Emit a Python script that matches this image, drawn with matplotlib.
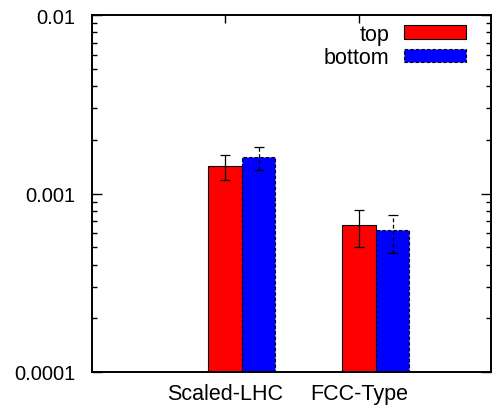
import numpy as np
import matplotlib
matplotlib.use("Agg")
import matplotlib.pyplot as plt
from matplotlib.ticker import LogLocator, NullFormatter, FixedLocator

plt.rcParams['font.family'] = ['Liberation Sans', 'DejaVu Sans']

categories = ["Scaled-LHC", "FCC-Type"]
top_vals = [1.41e-3, 6.55e-4]
top_lo = [1.19e-3, 5.03e-4]
top_hi = [1.64e-3, 8.1e-4]
bottom_vals = [1.59e-3, 6.11e-4]
bottom_lo = [1.35e-3, 4.62e-4]
bottom_hi = [1.83e-3, 7.6e-4]

fig = plt.figure(figsize=(4.92, 4.06), dpi=100)
ax = fig.add_axes([92 / 492, 1 - 373 / 406, 399 / 492, 357 / 406])

x = np.arange(len(categories))
w = 0.25
xr = x - w / 2
xb = x + w / 2

ax.bar(xr, top_vals, width=w, color="red", edgecolor="black", linewidth=0.8,
       label="top", bottom=1e-5, zorder=2)
ax.bar(xb, bottom_vals, width=w, color="blue", edgecolor="black", linewidth=0.8,
       linestyle=(0, (3, 2)), label="bottom", bottom=1e-5, zorder=2)

def errs(v, lo, hi):
    v, lo, hi = map(np.array, (v, lo, hi))
    return [v - lo, hi - v]

ax.errorbar(xr, top_vals, yerr=errs(top_vals, top_lo, top_hi), fmt="none",
            ecolor="black", elinewidth=0.9, capsize=3.5, capthick=0.9, zorder=3)
eb = ax.errorbar(xb, bottom_vals, yerr=errs(bottom_vals, bottom_lo, bottom_hi), fmt="none",
                 ecolor="black", elinewidth=0.9, capsize=3.5, capthick=0.9, zorder=3)
for c in eb[2]:
    c.set_linestyle((0, (3, 2)))

ax.set_yscale("log")
ax.set_ylim(1e-4, 1e-2)
ax.set_xlim(-1.12, 1.86)

ax.yaxis.set_major_locator(FixedLocator([1e-4, 1e-3, 1e-2]))
ax.set_yticklabels(["0.0001", "0.001", "0.01"])
ax.yaxis.set_minor_locator(LogLocator(base=10, subs=np.arange(2, 10)))
ax.yaxis.set_minor_formatter(NullFormatter())

ax.set_xticks(xr)
ax.set_xticklabels(categories)

ax.tick_params(axis="both", which="both", direction="in", top=True, right=True,
               width=1)
ax.tick_params(axis="y", which="major", length=7, labelsize=14.5, pad=12)
ax.tick_params(axis="y", which="minor", length=3.5)
ax.tick_params(axis="x", which="major", length=6, labelsize=15.5, pad=8)
for s in ax.spines.values():
    s.set_linewidth(1.4)

ax.legend(loc="upper right", bbox_to_anchor=(0.959, 1.0), frameon=False,
          fontsize=15.5, handlelength=2.9, handleheight=0.56, handletextpad=0.65,
          markerfirst=False, borderaxespad=0, labelspacing=0.1)

fig.savefig("out.png", dpi=100)
